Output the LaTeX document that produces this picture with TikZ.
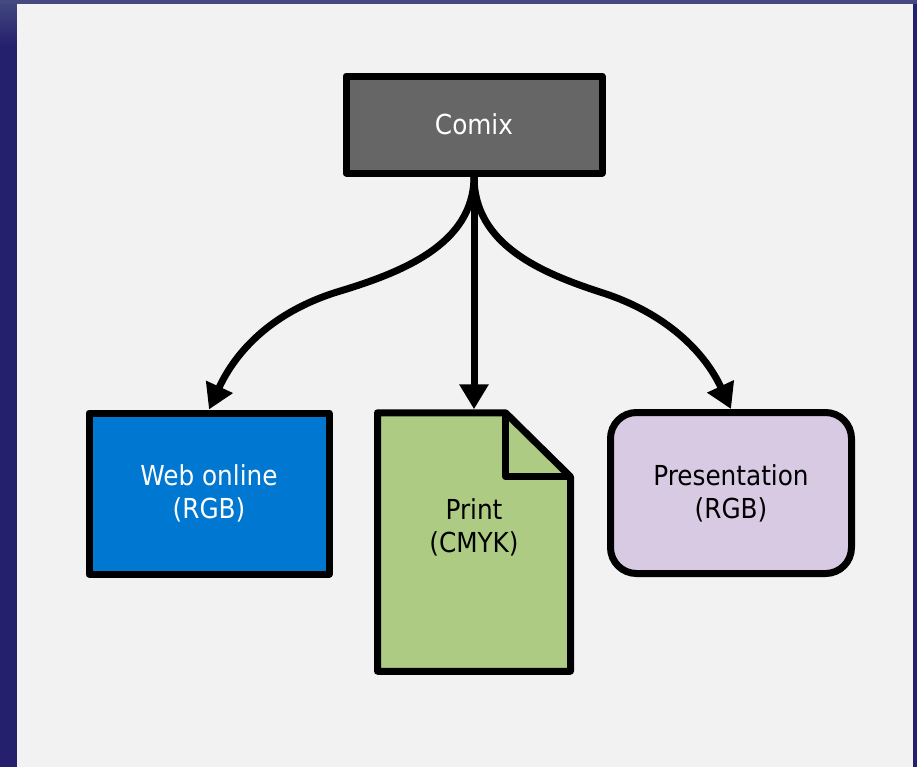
\documentclass[tikz,border=0pt]{standalone}
\usepackage{fontspec}
\setmainfont{DejaVu Sans Condensed}
\usetikzlibrary{arrows.meta,calc}
\definecolor{SlideNavy}{HTML}{24206E}
\definecolor{SlideTop}{HTML}{44497F}
\definecolor{PanelGray}{HTML}{F2F2F2}
\definecolor{ComixGray}{HTML}{666666}
\definecolor{WebBlue}{HTML}{0077D0}
\definecolor{PrintGreen}{HTML}{AECB83}
\definecolor{PresLilac}{HTML}{D8CAE2}
\tikzset{
  box/.style={draw=black,line width=3.5pt,line join=round,inner sep=0pt,
    align=center,font=\fontsize{13.75}{16.5}\selectfont},
  flow/.style={line width=3.5pt,-{Triangle[length=12.5pt,width=14pt]}}
}
\begin{document}
\begin{tikzpicture}[x=0.5pt,y=-0.5pt]
   % slide background and panel
   \fill[SlideNavy] (0,0) rectangle (917,767);
   \shade[top color=SlideTop,bottom color=SlideNavy] (0,0) rectangle (17,45);
   \fill[SlideTop] (0,0) rectangle (917,4);
   \fill[PanelGray] (17,4) rectangle (913,767);

   \node[box,fill=ComixGray,text=white,minimum width=128pt,minimum height=48.5pt]
    (comix) at (474,124.5) {Comix};
   \node[box,fill=WebBlue,text=white,minimum width=120pt,minimum height=80.5pt]
    (web) at (209,493.5) {Web online\\(RGB)};
   \node[box,fill=PresLilac,rounded corners=13pt,minimum width=120.5pt,
    minimum height=80.5pt] (pres) at (731,493) {Presentation\\(RGB)};

   % print sheet with folded corner
   \node[inner sep=0pt,outer sep=0pt,minimum width=96.5pt,minimum height=129.25pt]
    (print) at (474,542) {};
   \draw[box,fill=PrintGreen] (print.south west) -- (print.north west)
    -- ($(print.north east)+(-65,0)$) -- ($(print.north east)+(0,64)$)
    -- (print.south east) -- cycle;
   \draw[box] ($(print.north east)+(-65,0)$) -- ($(print.north east)+(-65,64)$)
    -- ($(print.north east)+(0,64)$);
   \node[box,draw=none] (printlabel) at ($(print.center)+(0,-15)$) {Print\\(CMYK)};

   \coordinate (lbend) at (337,292);
   \coordinate (rbend) at (600,292);

   \draw[flow] (comix.south) .. controls (474,245) and (400,273) .. (lbend)
    .. controls (270,313) and (235,353) .. (web.north);
   \draw[flow,shorten >=1.75pt] (comix.south) -- (print.north);
   \draw[flow] (comix.south) .. controls (474,245) and (542,273) .. (rbend)
    .. controls (667,313) and (705,353) .. (pres.north);
\end{tikzpicture}
\end{document}
